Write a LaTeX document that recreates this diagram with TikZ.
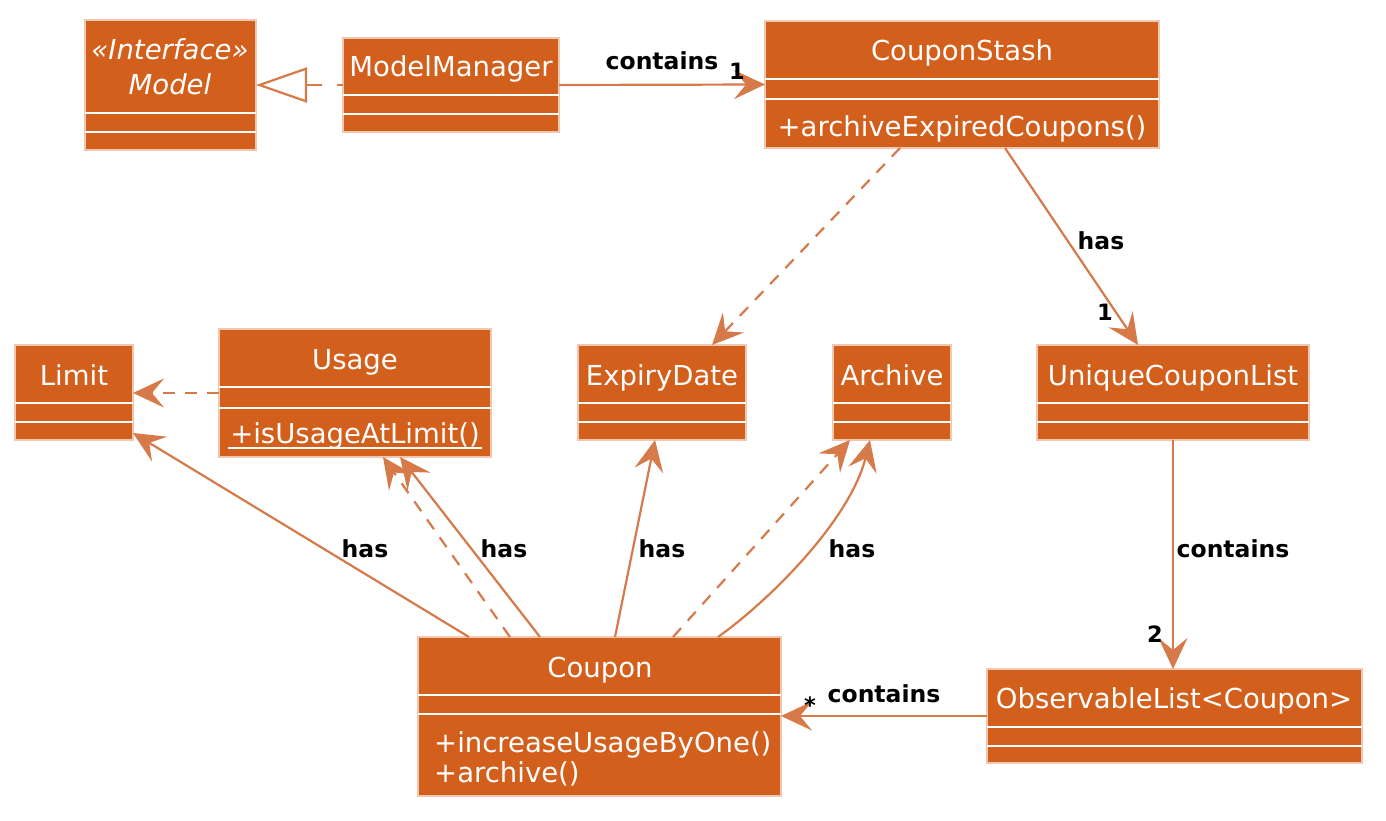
\documentclass[tikz,border=0pt]{standalone}
\usepackage{fontspec}
\setmainfont{DejaVu Sans}
\usetikzlibrary{arrows.meta}
\definecolor{boxfill}{RGB}{211,95,29}
\definecolor{edgecol}{RGB}{214,122,74}
\definecolor{boxline}{RGB}{240,200,178}
\newcommand\umlcls[7]{%
  \pgfmathsetmacro\bw{#4-#2}\pgfmathsetmacro\bh{#5-#3}%
  \node[cls, minimum width=\bw pt, minimum height=\bh pt] (#1) at (#2,#3) {};
  \draw[sepl] (#2,#6) -- (#4,#6);
  \draw[sepl] (#2,#7) -- (#4,#7);
}
\begin{document}
\begin{tikzpicture}[x=1pt,y=-1pt,
  cls/.style={draw=boxline, line width=1.2pt, fill=boxfill, inner sep=0pt, outer sep=0pt, anchor=north west},
  sepl/.style={draw=white, line width=2pt},
  ctext/.style={text=white, font=\fontsize{27.5}{33}\selectfont, anchor=base, inner sep=0pt},
  itext/.style={text=white, font=\fontsize{27.5}{33}\selectfont\itshape, anchor=base, inner sep=0pt},
  mtext/.style={text=white, font=\fontsize{27.5}{33}\selectfont, anchor=base west, inner sep=0pt},
  lbl/.style={font=\fontsize{23.5}{28}\selectfont\bfseries, anchor=base, inner sep=0pt},
  mult/.style={font=\fontsize{22.5}{27}\selectfont\bfseries, anchor=base, inner sep=0pt},
  conn/.style={draw=edgecol, line width=2.2pt, -{Stealth[length=31pt,width=29pt,inset=12pt]}},
  dconn/.style={conn, dash pattern=on 12pt off 10pt},
  ul/.style={draw=white, line width=1.6pt}
]
\useasboundingbox (0,0) rectangle (1386,821);

% classes
\umlcls{model}{85}{20}{256}{150}{113}{132}
\umlcls{mm}{343}{38}{559}{132}{95}{114}
\umlcls{cs}{765}{21}{1159}{148}{79}{99}
\umlcls{limit}{15}{345}{133}{440}{403}{422}
\umlcls{usage}{219}{329}{491}{457}{387}{408}
\umlcls{ed}{578}{345}{746}{440}{403}{422}
\umlcls{arch}{833}{345}{951}{440}{403}{422}
\umlcls{ucl}{1037}{345}{1309}{440}{403}{422}
\umlcls{coupon}{418}{637}{781}{796}{695}{714}
\umlcls{ol}{987}{669}{1362}{763}{727}{746}

% texts
\node[itext] (modelS) at (170,60) {«Interface»};
\node[itext] (modelN) at (170,95) {Model};
\node[ctext] (mmT) at (451,77) {ModelManager};
\node[ctext] (csT) at (962,61) {CouponStash};
\node[ctext] (csM) at (962,137) {+archiveExpiredCoupons()};
\node[ctext] (limitT) at (74,385) {Limit};
\node[ctext] (usageT) at (355,369) {Usage};
\node[ctext] (usageM) at (355,443) {+isUsageAtLimit()};
\draw[ul] ([yshift=-5pt,xshift=-2pt]usageM.base west) -- ([yshift=-5pt,xshift=2pt]usageM.base east);
\node[ctext] (edT) at (662,385) {ExpiryDate};
\node[ctext] (archT) at (892,385) {Archive};
\node[ctext] (uclT) at (1173,385) {UniqueCouponList};
\node[ctext] (couponT) at (600,677) {Coupon};
\node[mtext] (couponM1) at (434,752) {+increaseUsageByOne()};
\node[mtext] (couponM2) at (434,782) {+archive()};
\node[ctext] (olT) at (1174,708) {ObservableList<Coupon>};

% connectors
\draw[draw=edgecol, line width=2.2pt, dash pattern=on 6pt off 15pt on 30pt,
      -{Triangle[open, length=51pt, width=35pt, fill=white]}] (mm.west) -- (model.east);
\draw[conn] (mm.east) -- (cs.west);
\draw[dconn] ([xshift=135pt]cs.south west) -- ([xshift=134pt]ed.north west);
\draw[conn] ([xshift=240pt]cs.south west) -- ([xshift=101pt]ucl.north west);
\draw[conn] (ucl.south) -- (ucl.south |- ol.north);
\draw[conn] (ol.west) -- (ol.west -| coupon.east);
\draw[dconn] (usage.west) -- (usage.west -| limit.east);
\draw[conn] ([xshift=51pt]coupon.north west) -- ([yshift=-88pt]limit.north east);
\draw[dconn] ([xshift=92pt]coupon.north west) -- ([xshift=164pt]usage.south west);
\draw[conn] ([xshift=122pt]coupon.north west) -- ([xshift=181pt]usage.south west);
\draw[conn] ([xshift=197pt]coupon.north west) -- ([xshift=77pt]ed.south west);
\draw[dconn] ([xshift=255pt]coupon.north west) -- ([xshift=17pt]arch.south west);
\draw[conn] ([xshift=300pt]coupon.north west) .. controls (770,600) and (850,520) .. ([xshift=37pt]arch.south west);

% labels
\node[lbl] (l1) at (662,70) {contains};
\node[mult] (m1) at (737,80) {1};
\node[lbl] (l2) at (1101,249) {has};
\node[mult] (m2) at (1105,320) {1};
\node[lbl] (l3) at (1233,557) {contains};
\node[mult] (m3) at (1155,642) {2};
\node[lbl] (l4) at (884,702) {contains};
\node[mult] (m4) at (810,713) {*};
\node[lbl] (h1) at (365,557) {has};
\node[lbl] (h2) at (504,557) {has};
\node[lbl] (h3) at (662,557) {has};
\node[lbl] (h4) at (852,557) {has};
\end{tikzpicture}
\end{document}
